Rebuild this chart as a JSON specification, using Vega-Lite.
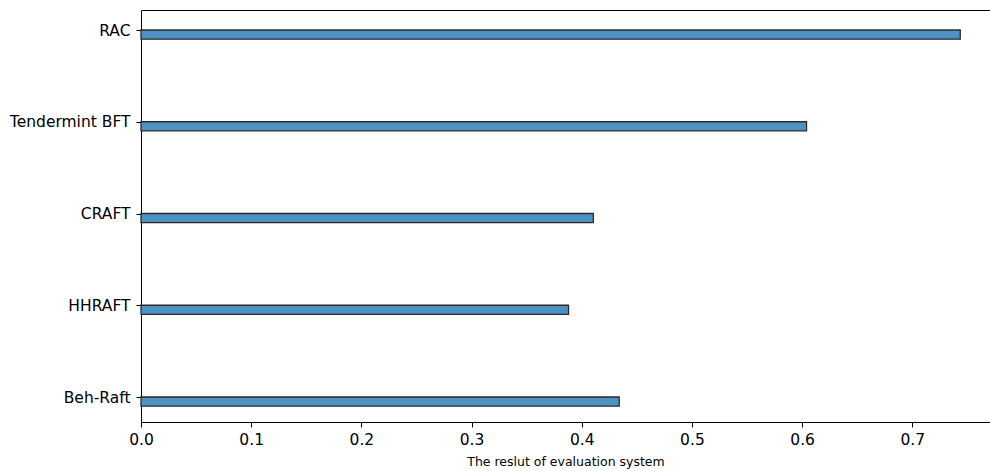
{
  "$schema": "https://vega.github.io/schema/vega-lite/v6.json",
  "width": 849,
  "height": 412,
  "autosize": {"type": "none"},
  "padding": {"left": 141, "top": 10, "right": 0, "bottom": 49},
  "background": "white",
  "config": {
    "view": {"stroke": "black", "strokeWidth": 1},
    "font": "DejaVu Sans",
    "axis": {
      "labelFont": "DejaVu Sans",
      "titleFont": "DejaVu Sans",
      "labelColor": "black",
      "titleColor": "black",
      "domainColor": "black",
      "tickColor": "black",
      "grid": false,
      "tickSize": 5,
      "labelFontSize": 15.5
    }
  },
  "data": {
    "values": [
      {"system": "RAC", "score": 0.7435},
      {"system": "Tendermint BFT", "score": 0.604},
      {"system": "CRAFT", "score": 0.4105},
      {"system": "HHRAFT", "score": 0.388},
      {"system": "Beh-Raft", "score": 0.434}
    ]
  },
  "mark": {
    "type": "bar",
    "height": 9.2,
    "yOffset": 4.6,
    "fill": "#4c92c3",
    "stroke": "#2b2b2b",
    "strokeWidth": 1.3
  },
  "encoding": {
    "y": {
      "field": "system",
      "type": "nominal",
      "sort": null,
      "scale": {"type": "point", "range": [20, 387], "padding": 0},
      "axis": {"title": null, "labelPadding": 6, "domain": false}
    },
    "x": {
      "field": "score",
      "type": "quantitative",
      "scale": {"domain": [0, 0.7705], "nice": false, "zero": true},
      "axis": {
        "title": "The reslut of evaluation system",
        "titleFontSize": 12.5,
        "titleFontWeight": "normal",
        "titlePadding": 8,
        "values": [0, 0.1, 0.2, 0.3, 0.4, 0.5, 0.6, 0.7],
        "format": ".1f",
        "labelFlush": false,
        "labelPadding": 5,
        "domain": false
      }
    }
  }
}
